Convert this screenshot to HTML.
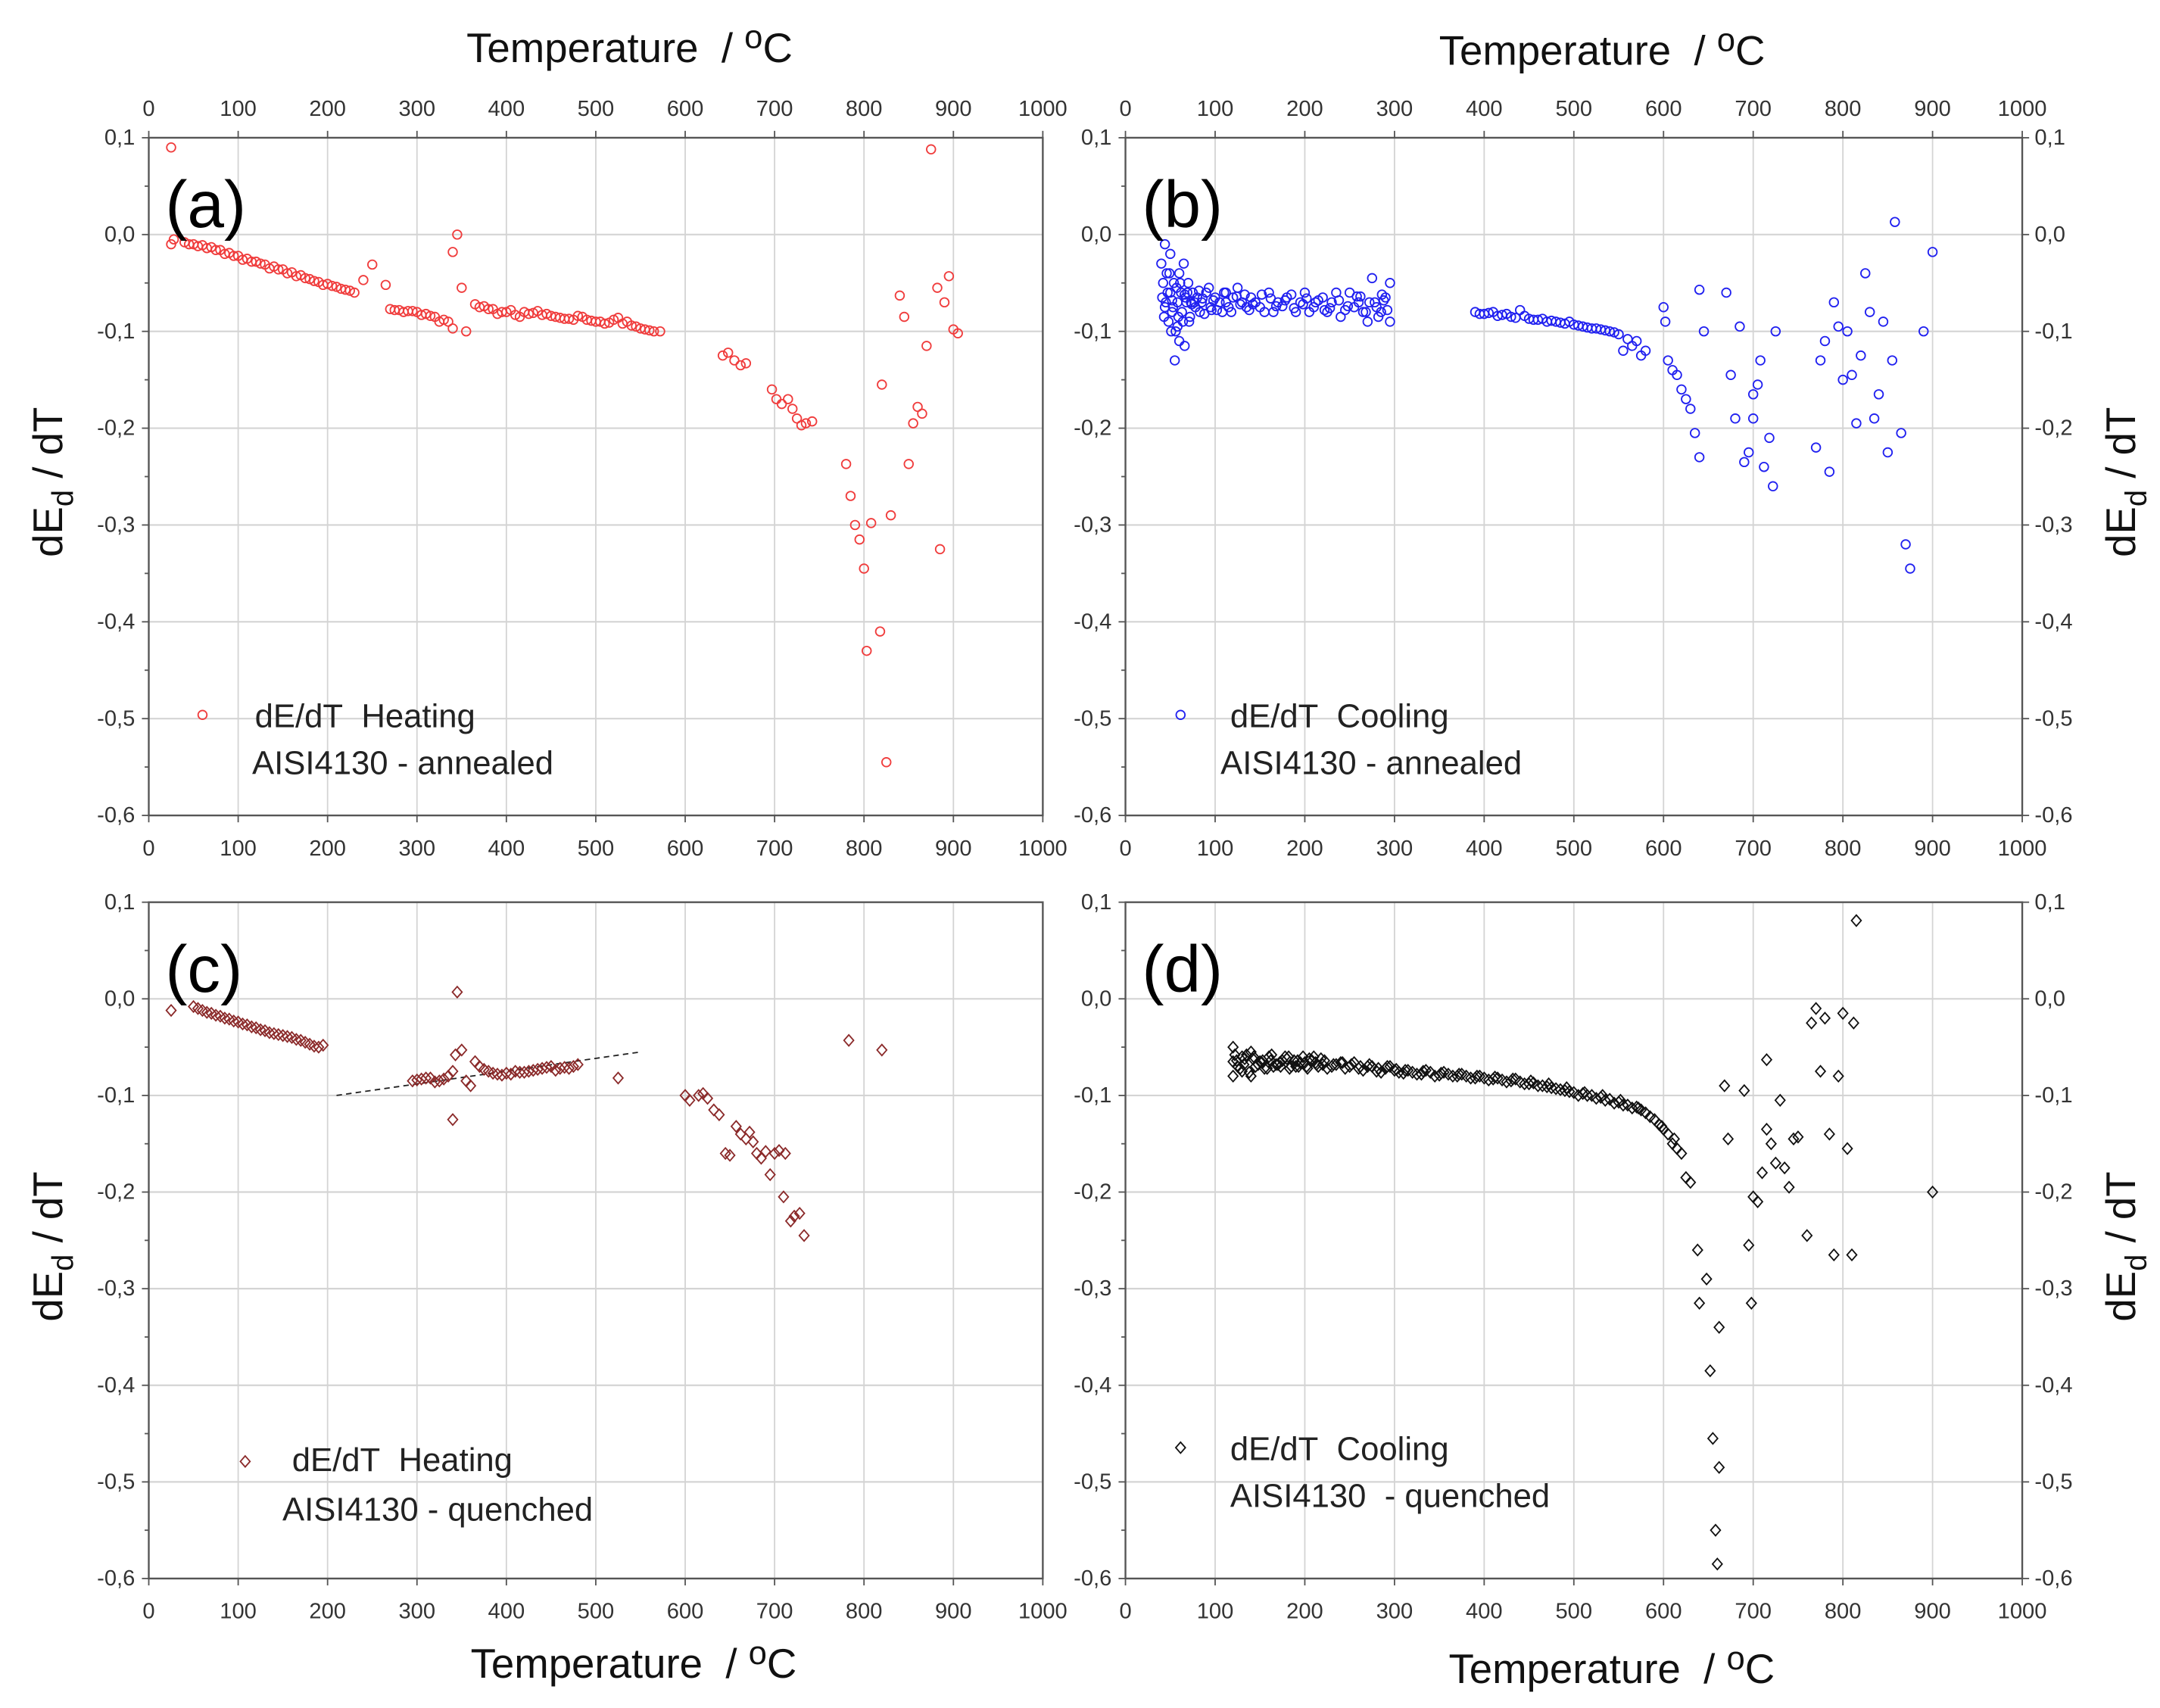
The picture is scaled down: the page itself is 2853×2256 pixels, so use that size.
<!DOCTYPE html>
<html><head><meta charset="utf-8"><style>
html,body{margin:0;padding:0;background:#fff;}
svg{display:block;}
text{font-family:"Liberation Sans",sans-serif;}
.tick{font-family:"Liberation Sans",sans-serif;font-size:16px;fill:#333;}
</style></head><body>
<svg id="fig" width="2853" height="2256" viewBox="0 0 1568 1240" preserveAspectRatio="none" xmlns="http://www.w3.org/2000/svg"></svg>
<script>
// Panel (a) heating annealed
const aT=[25,25,28,40,50,60,70,80,90,100,110,120,130,140,150,160,170,180,190,200,210,220,230,240,250,265,270,280,290,300,310,320,330,340,340,345,350,355,365,375,385,395,405,415,425,435,445,455,465,475,485,495,505,515,525,535,545,555,565,572,642,648,655,662,668,697,702,708,715,720,725,730,735,742,780,785,790,795,800,803,808,818,820,825,830,840,845,850,855,860,865,870,875,882,885,890,895,900,905,45,55,65,75,85,95,105,115,125,135,145,155,165,175,185,195,205,215,225,275,285,295,305,315,325,335,370,380,390,400,410,420,430,440,450,460,470,480,490,500,510,520,530,540,550,560];
const aV=[0.09,-0.01,-0.005,-0.008,-0.01,-0.011,-0.013,-0.016,-0.019,-0.022,-0.025,-0.028,-0.031,-0.033,-0.036,-0.039,-0.042,-0.046,-0.049,-0.051,-0.054,-0.057,-0.06,-0.047,-0.031,-0.052,-0.077,-0.078,-0.079,-0.08,-0.082,-0.085,-0.088,-0.097,-0.018,0.0,-0.055,-0.1,-0.072,-0.074,-0.077,-0.08,-0.078,-0.085,-0.082,-0.079,-0.082,-0.085,-0.087,-0.088,-0.085,-0.089,-0.09,-0.091,-0.086,-0.09,-0.095,-0.098,-0.1,-0.1,-0.125,-0.122,-0.13,-0.135,-0.133,-0.16,-0.17,-0.175,-0.17,-0.18,-0.19,-0.197,-0.195,-0.193,-0.237,-0.27,-0.3,-0.315,-0.345,-0.43,-0.298,-0.41,-0.155,-0.545,-0.29,-0.063,-0.085,-0.237,-0.195,-0.178,-0.185,-0.115,0.088,-0.055,-0.325,-0.07,-0.043,-0.098,-0.102,-0.01,-0.012,-0.014,-0.016,-0.02,-0.022,-0.026,-0.028,-0.03,-0.035,-0.036,-0.04,-0.043,-0.045,-0.048,-0.052,-0.053,-0.056,-0.058,-0.078,-0.08,-0.079,-0.083,-0.084,-0.09,-0.09,-0.075,-0.077,-0.082,-0.08,-0.083,-0.08,-0.081,-0.083,-0.084,-0.086,-0.087,-0.084,-0.088,-0.09,-0.092,-0.088,-0.092,-0.094,-0.097,-0.099];
// Panel (b) cooling annealed
const bT=[40,42,44,45,46,48,50,50,52,54,55,56,58,60,60,62,64,65,66,68,70,72,75,78,80,85,90,95,100,105,110,115,120,125,130,140,150,160,170,180,190,200,210,220,230,240,250,260,270,275,280,290,295,295,47,53,57,63,67,73,83,93,108,135,165,195,225,255,285,390,400,410,420,430,440,450,460,470,480,490,500,510,520,530,540,550,555,560,565,570,575,580,600,602,605,610,615,620,625,630,635,640,640,645,670,675,680,685,690,695,700,700,705,708,712,718,722,725,770,775,780,785,790,795,800,805,810,815,820,825,830,835,840,845,850,855,858,865,870,875,890,900,
 41,43,49,51,59,61,69,71,77,82,88,98,102,112,118,128,133,138,145,155,162,175,185,198,205,215,228,235,245,258,265,272,282,288,292,
 44,52,58,66,74,86,96,112,124,142,152,168,178,188,202,212,222,238,248,262,268,278,286,
 395,405,415,425,435,445,455,465,475,485,495,505,515,525,535,545];
const bV=[-0.03,-0.05,-0.01,-0.07,-0.04,-0.09,-0.06,-0.02,-0.08,-0.05,-0.13,-0.1,-0.07,-0.04,-0.11,-0.06,-0.09,-0.03,-0.115,-0.07,-0.05,-0.085,-0.06,-0.075,-0.065,-0.07,-0.06,-0.075,-0.065,-0.07,-0.06,-0.075,-0.065,-0.055,-0.07,-0.065,-0.075,-0.06,-0.07,-0.065,-0.08,-0.06,-0.075,-0.065,-0.07,-0.085,-0.06,-0.07,-0.09,-0.045,-0.075,-0.065,-0.05,-0.09,-0.06,-0.075,-0.055,-0.08,-0.065,-0.07,-0.08,-0.055,-0.08,-0.075,-0.08,-0.07,-0.08,-0.075,-0.08,-0.08,-0.082,-0.08,-0.083,-0.085,-0.078,-0.087,-0.088,-0.09,-0.09,-0.092,-0.093,-0.095,-0.097,-0.098,-0.1,-0.103,-0.12,-0.108,-0.115,-0.11,-0.125,-0.12,-0.075,-0.09,-0.13,-0.14,-0.145,-0.16,-0.17,-0.18,-0.205,-0.23,-0.057,-0.1,-0.06,-0.145,-0.19,-0.095,-0.235,-0.225,-0.165,-0.19,-0.155,-0.13,-0.24,-0.21,-0.26,-0.1,-0.22,-0.13,-0.11,-0.245,-0.07,-0.095,-0.15,-0.1,-0.145,-0.195,-0.125,-0.04,-0.08,-0.19,-0.165,-0.09,-0.225,-0.13,0.013,-0.205,-0.32,-0.345,-0.1,-0.018,
 -0.065,-0.085,-0.04,-0.1,-0.085,-0.05,-0.06,-0.09,-0.07,-0.058,-0.082,-0.068,-0.078,-0.06,-0.08,-0.072,-0.062,-0.078,-0.07,-0.08,-0.066,-0.074,-0.062,-0.072,-0.08,-0.068,-0.076,-0.06,-0.078,-0.064,-0.08,-0.07,-0.085,-0.068,-0.078,
 -0.075,-0.068,-0.095,-0.062,-0.072,-0.066,-0.078,-0.07,-0.064,-0.072,-0.062,-0.074,-0.068,-0.076,-0.066,-0.07,-0.078,-0.068,-0.074,-0.064,-0.08,-0.07,-0.062,
 -0.082,-0.081,-0.084,-0.082,-0.086,-0.084,-0.088,-0.087,-0.089,-0.091,-0.09,-0.094,-0.096,-0.097,-0.099,-0.101];
// Panel (c) heating quenched
const cT=[25,50,60,70,80,90,100,110,120,130,140,150,160,170,180,190,195,295,305,315,325,335,340,340,343,345,350,355,360,365,370,380,390,400,410,420,430,440,450,460,470,480,525,600,605,615,620,625,632,638,645,650,657,662,668,672,676,680,685,690,695,700,705,710,712,718,722,728,733,783,820,55,65,75,85,95,105,115,125,135,145,155,165,175,185,300,310,320,330,375,385,395,405,415,425,435,445,455,465,475];
const cV=[-0.012,-0.008,-0.012,-0.015,-0.018,-0.021,-0.024,-0.027,-0.03,-0.033,-0.036,-0.038,-0.04,-0.043,-0.047,-0.05,-0.048,-0.085,-0.083,-0.082,-0.085,-0.08,-0.075,-0.125,-0.058,0.007,-0.053,-0.085,-0.09,-0.065,-0.07,-0.075,-0.078,-0.077,-0.075,-0.076,-0.074,-0.072,-0.07,-0.072,-0.072,-0.068,-0.082,-0.1,-0.105,-0.1,-0.098,-0.103,-0.115,-0.12,-0.16,-0.162,-0.132,-0.14,-0.145,-0.138,-0.148,-0.16,-0.165,-0.158,-0.182,-0.16,-0.157,-0.205,-0.16,-0.23,-0.225,-0.222,-0.245,-0.043,-0.053,-0.01,-0.014,-0.017,-0.02,-0.023,-0.026,-0.029,-0.032,-0.035,-0.037,-0.039,-0.042,-0.045,-0.049,-0.084,-0.082,-0.086,-0.083,-0.073,-0.077,-0.079,-0.078,-0.076,-0.075,-0.073,-0.071,-0.074,-0.071,-0.07];
const cLineT=[210,550];
const cLineV=[-0.1,-0.055];
// Panel (d) cooling quenched
const dT=[120,120,120,125,130,130,135,140,140,145,150,155,160,165,170,175,180,185,190,195,200,205,210,215,220,230,240,250,260,270,280,290,300,310,320,330,340,350,360,370,380,390,400,410,420,430,440,450,460,470,480,490,500,510,520,530,540,550,560,570,575,580,590,595,600,605,610,615,620,625,630,638,640,648,652,655,658,660,662,662,668,672,690,695,698,700,705,710,715,715,720,725,730,735,740,745,750,760,765,770,775,780,785,790,795,800,805,810,812,815,900,
 122,128,133,138,143,148,153,158,163,168,173,178,183,188,193,198,203,208,213,218,225,235,245,255,265,275,285,295,305,315,325,335,345,355,365,375,385,395,405,415,425,435,445,455,465,475,485,495,505,515,525,535,545,555,565,585,598,612,
 124,132,142,152,162,172,182,192,202,212,222,232,242,252,262,272,282,292,302,312,332,352,372,392,412,432,452,472,492,512,532,552,572];
const dV=[-0.05,-0.08,-0.065,-0.07,-0.06,-0.075,-0.058,-0.055,-0.08,-0.07,-0.065,-0.072,-0.06,-0.07,-0.068,-0.064,-0.062,-0.07,-0.07,-0.066,-0.066,-0.062,-0.06,-0.07,-0.068,-0.07,-0.066,-0.07,-0.072,-0.07,-0.075,-0.072,-0.074,-0.077,-0.076,-0.078,-0.076,-0.079,-0.078,-0.08,-0.08,-0.082,-0.082,-0.083,-0.084,-0.085,-0.086,-0.088,-0.09,-0.091,-0.093,-0.095,-0.097,-0.098,-0.1,-0.102,-0.104,-0.107,-0.11,-0.112,-0.115,-0.118,-0.125,-0.13,-0.135,-0.14,-0.15,-0.155,-0.16,-0.185,-0.19,-0.26,-0.315,-0.29,-0.385,-0.455,-0.55,-0.585,-0.485,-0.34,-0.09,-0.145,-0.095,-0.255,-0.315,-0.205,-0.21,-0.18,-0.063,-0.135,-0.15,-0.17,-0.105,-0.175,-0.195,-0.145,-0.143,-0.245,-0.025,-0.01,-0.075,-0.02,-0.14,-0.265,-0.08,-0.015,-0.155,-0.265,-0.025,0.081,-0.2,
 -0.058,-0.072,-0.062,-0.076,-0.06,-0.068,-0.064,-0.072,-0.058,-0.068,-0.07,-0.06,-0.072,-0.064,-0.07,-0.06,-0.072,-0.064,-0.068,-0.062,-0.072,-0.068,-0.072,-0.066,-0.074,-0.07,-0.076,-0.07,-0.076,-0.074,-0.078,-0.074,-0.08,-0.076,-0.08,-0.078,-0.082,-0.08,-0.084,-0.082,-0.086,-0.083,-0.088,-0.087,-0.09,-0.092,-0.094,-0.096,-0.1,-0.1,-0.103,-0.105,-0.108,-0.11,-0.113,-0.122,-0.132,-0.145,
 -0.064,-0.068,-0.062,-0.066,-0.064,-0.066,-0.06,-0.064,-0.07,-0.066,-0.064,-0.068,-0.066,-0.068,-0.07,-0.068,-0.072,-0.07,-0.073,-0.074,-0.075,-0.077,-0.078,-0.08,-0.081,-0.083,-0.085,-0.088,-0.092,-0.097,-0.1,-0.105,-0.113];
const xTicks=[0,100,200,300,400,500,600,700,800,900,1000];
const yTicks=[0.1,0,-0.1,-0.2,-0.3,-0.4,-0.5,-0.6];
const yTickLabels=["0,1","0,0","-0,1","-0,2","-0,3","-0,4","-0,5","-0,6"];

const NS="http://www.w3.org/2000/svg";
const svg=document.getElementById('fig');
function mk(tag,attrs,parent){const e=document.createElementNS(NS,tag);for(const k in attrs)e.setAttribute(k,attrs[k]);(parent||svg).appendChild(e);return e;}
function txt(s,attrs,parent){const e=mk('text',attrs,parent);e.textContent=s;return e;}

const panels=[
 {id:'a',x0:108,x1:757,y0:100,y1:592,T:aT,V:aV,col:'#f03c3c',shape:'circle',topAx:true,rightLbl:false,
  leg:[147,519,185,528,183,562],l1:'dE/dT\u00a0 Heating',l2:'AISI4130 - annealed'},
 {id:'b',x0:817,x1:1468,y0:100,y1:592,T:bT,V:bV,col:'#2020f0',shape:'circle',topAx:true,rightLbl:true,
  leg:[857,519,893,528,886,562],l1:'dE/dT\u00a0 Cooling',l2:'AISI4130 - annealed'},
 {id:'c',x0:108,x1:757,y0:655,y1:1146,T:cT,V:cV,col:'#8b2a2a',shape:'diamond',topAx:false,rightLbl:false,
  leg:[178,1061,212,1068,205,1104],l1:'dE/dT\u00a0 Heating',l2:'AISI4130 - quenched'},
 {id:'d',x0:817,x1:1468,y0:655,y1:1146,T:dT,V:dV,col:'#111',shape:'diamond',topAx:false,rightLbl:true,
  leg:[857,1051,893,1060,893,1094],l1:'dE/dT\u00a0 Cooling',l2:'AISI4130 \u00a0- quenched'}
];

panels.forEach(p=>{
  const g=mk('g',{});
  
  
  const X=t=>p.x0+(t/1000)*(p.x1-p.x0);
  const Y=v=>p.y0+((0.1-v)/0.7)*(p.y1-p.y0);
  xTicks.forEach(t=>{mk('line',{x1:X(t),x2:X(t),y1:p.y0,y2:p.y1,stroke:'#d4d4d4','stroke-width':1},g);});
  yTicks.forEach(v=>{mk('line',{x1:p.x0,x2:p.x1,y1:Y(v),y2:Y(v),stroke:'#d4d4d4','stroke-width':1.2},g);});
  const fr=mk('rect',{x:p.x0,y:p.y0,width:p.x1-p.x0,height:p.y1-p.y0,fill:'none',stroke:'#555','stroke-width':1.3},g);
  
  
  const xg=mk('g',{},g);
  
  
  xTicks.forEach(t=>{
    mk('line',{x1:X(t),x2:X(t),y1:p.y1,y2:p.y1+5,stroke:'#555'},xg);
    txt(String(t),{x:X(t),y:p.y1+29,'text-anchor':'middle',class:'tick'},xg);
    if(p.topAx){mk('line',{x1:X(t),x2:X(t),y1:p.y0,y2:p.y0-5,stroke:'#555'},xg);
      txt(String(t),{x:X(t),y:p.y0-16,'text-anchor':'middle',class:'tick'},xg);}
  });
  const yg=mk('g',{},g);
  
  
  yTicks.forEach((v,i)=>{
    mk('line',{x1:p.x0-5,x2:p.x0,y1:Y(v),y2:Y(v),stroke:'#555'},yg);
    if(i<7)mk('line',{x1:p.x0-3,x2:p.x0,y1:Y(v-0.05),y2:Y(v-0.05),stroke:'#555'},yg);
    txt(yTickLabels[i],{x:p.x0-10,y:Y(v)+5,'text-anchor':'end',class:'tick'},yg);
    if(p.rightLbl){mk('line',{x1:p.x1,x2:p.x1+5,y1:Y(v),y2:Y(v),stroke:'#555'},yg);
      txt(yTickLabels[i],{x:p.x1+9,y:Y(v)+5,'text-anchor':'start',class:'tick'},yg);}
  });
  if(p.id==='c'){
    const l=mk('line',{x1:X(cLineT[0]),y1:Y(cLineV[0]),x2:X(cLineT[1]),y2:Y(cLineV[1]),stroke:'#222','stroke-width':1,'stroke-dasharray':'4,3'},g);
    
    
  }
  const sg=mk('g',{},g);
  
  
  p.T.forEach((t,i)=>{
    let m;
    const cx=X(t),cy=Y(p.V[i]);
    if(p.shape==='circle') m=mk('circle',{cx:cx,cy:cy,r:3.2,fill:'none',stroke:p.col,'stroke-width':1},sg);
    else m=mk('path',{d:`M${cx} ${cy-4}L${cx+3.5} ${cy}L${cx} ${cy+4}L${cx-3.5} ${cy}Z`,fill:'none',stroke:p.col,'stroke-width':1},sg);
    
    
  });
  const pl=txt('('+p.id+')',{x:p.x0+12,y:p.y0+65,'font-size':48,fill:'#000'},g);
  
  
  const lg=mk('g',{},g);
  
  
  const [mx,my,tx,ty,t2x,t2y]=p.leg;
  if(p.shape==='circle') mk('circle',{cx:mx,cy:my,r:3.2,fill:'none',stroke:p.col},lg);
  else mk('path',{d:`M${mx} ${my-4}L${mx+3.5} ${my}L${mx} ${my+4}L${mx-3.5} ${my}Z`,fill:'none',stroke:p.col},lg);
  txt(p.l1,{x:tx,y:ty,'font-size':24,fill:'#222'},lg);
  txt(p.l2,{x:t2x,y:t2y,'font-size':24,fill:'#222'},lg);
});

function tempTitle(x,y,name){
  const t=mk('text',{x:x,y:y,'text-anchor':'middle','font-size':30,fill:'#111'});
  
  
  t.innerHTML='Temperature\u00a0 /\u00a0<tspan dy="-10" font-size="24">o</tspan><tspan dy="10">C</tspan>';
}
tempTitle(457,45,'x-axis-title-top-a');
tempTitle(1163,47,'x-axis-title-top-b');
tempTitle(460,1218,'x-axis-title-bottom-c');
tempTitle(1170,1222,'x-axis-title-bottom-d');
function yTitle(x,y,name){
  const t=mk('text',{x:0,y:0,'text-anchor':'middle','font-size':30,fill:'#111',transform:`translate(${x},${y}) rotate(-90)`});
  
  
  t.innerHTML='dE<tspan dy="8" font-size="22">d</tspan><tspan dy="-8"> / dT</tspan>';
}
yTitle(45,350,'y-axis-title-a');
yTitle(45,905,'y-axis-title-c');
yTitle(1550,350,'y-axis-title-b');
yTitle(1550,905,'y-axis-title-d');
</script>
</body></html>
